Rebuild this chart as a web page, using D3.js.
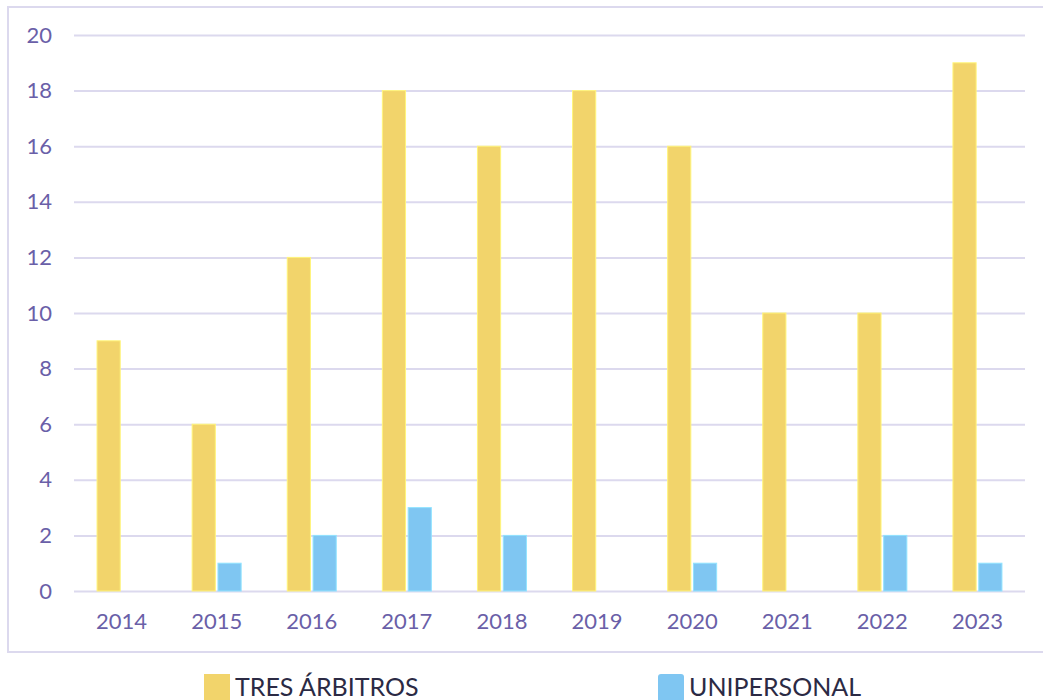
<!DOCTYPE html>
<html lang="es">
<head>
<meta charset="utf-8">
<style type="text/css">
body { margin: 0; background: #fff; }
svg { display: block; }
.tick text { font-family: "Lato", "DejaVu Sans", sans-serif; fill: #6a5fa8; }
.legend text { font-family: "Lato", "DejaVu Sans", sans-serif; fill: #2b2a44; }
</style>
</head>
<body>
<svg width="1043" height="700"></svg>
<script src="https://cdnjs.cloudflare.com/ajax/libs/d3/7.8.5/d3.min.js"></script>
<script type="text/javascript">
var years = ["2014", "2015", "2016", "2017", "2018", "2019", "2020", "2021", "2022", "2023"];
var tresArbitros = [9, 6, 12, 18, 16, 18, 16, 10, 10, 19];
var unipersonal = [0, 1, 2, 3, 2, 0, 1, 0, 2, 1];
var seriesNames = ["TRES ÁRBITROS", "UNIPERSONAL"];
var seriesColors = ["#f2d46b", "#7fc6f2"];
var yTicks = [0, 2, 4, 6, 8, 10, 12, 14, 16, 18, 20];

var svg = d3.select("svg"),
    margin = {left: 74, right: 18, top: 35, bottom: 109},
    width = +svg.attr("width"),
    height = +svg.attr("height");

// outer frame (no right edge visible in the picture)
svg.append("path")
    .attr("d", "M1043,7 H8 V652 H1043")
    .attr("fill", "none")
    .attr("stroke", "#dcd9ee")
    .attr("stroke-width", 2);

var x = d3.scaleBand()
    .domain(years)
    .range([margin.left, width - margin.right]);

var y = d3.scaleLinear()
    .domain([0, 20])
    .range([height - margin.bottom, margin.top]);

var barW = 22, gap = 5;
var inner = d3.scaleBand()
    .domain([0, 1])
    .range([0, barW * 2 + gap])
    .paddingInner(gap / (barW * 2 + gap));

// grid
var yAxis = svg.append("g")
    .attr("transform", "translate(" + margin.left + ",0)")
    .call(d3.axisLeft(y).tickValues(yTicks).tickSize(-(width - margin.left - margin.right)).tickPadding(22));
yAxis.select(".domain").remove();
yAxis.selectAll(".tick line").attr("stroke", "#dcd9ee").attr("stroke-width", 2);
yAxis.selectAll(".tick text").style("font-size", "22px");

var xAxis = svg.append("g")
    .attr("transform", "translate(0," + y(0) + ")")
    .call(d3.axisBottom(x).tickSize(0).tickPadding(22));
xAxis.select(".domain").remove();
xAxis.selectAll(".tick text").style("font-size", "22px");

var series = [tresArbitros, unipersonal];
series.forEach(function (vals, s) {
    svg.append("g").selectAll("rect")
        .data(vals)
        .enter()
        .append("rect")
        .attr("x", function (d, i) { return x(years[i]) + (x.bandwidth() - (barW * 2 + gap)) / 2 + inner(s); })
        .attr("width", inner.bandwidth())
        .attr("y", function (d) { return y(d); })
        .attr("height", function (d) { return y(0) - y(d); })
        .attr("fill", seriesColors[s])
        .attr("stroke", d3.color(seriesColors[s]).brighter(0.4))
        .attr("stroke-width", 1)
        .style("display", function (d) { return d > 0 ? null : "none"; });
});

// legend
var legendX = [204, 658];
var legend = svg.append("g").attr("class", "legend");
seriesNames.forEach(function (name, i) {
    legend.append("rect")
        .attr("x", legendX[i])
        .attr("y", 674)
        .attr("width", 26)
        .attr("height", 28)
        .attr("rx", i === 1 ? 3 : 0)
        .attr("fill", seriesColors[i]);
    legend.append("text")
        .attr("x", legendX[i] + 31)
        .attr("y", 696)
        .style("font-size", "25px")
        .text(name);
});
</script>
</body>
</html>
